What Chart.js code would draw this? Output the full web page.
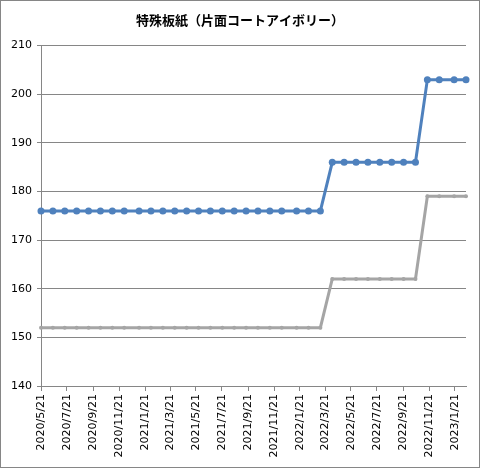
<!DOCTYPE html>
<html>
<head>
<meta charset="utf-8">
<script src="https://cdn.jsdelivr.net/npm/chart.js@4.4.0/dist/chart.umd.min.js"></script>
<style>
body { margin: 0; background: #fff; }
canvas { display: block; }
</style>
</head>
<body>
<canvas id="graph-canvas" width="480" height="468"></canvas>
<script>
const chartTitle = '特殊板紙（片面コートアイボリー）';

// price survey dates (every 4 weeks, sometimes 5)
const dates = [
    '2020/5/21','2020/6/18','2020/7/16','2020/8/13','2020/9/10','2020/10/8','2020/11/5','2020/12/3',
    '2021/1/7','2021/2/4','2021/3/4','2021/4/1','2021/4/29','2021/5/27','2021/6/24','2021/7/22',
    '2021/8/19','2021/9/16','2021/10/14','2021/11/11','2021/12/9','2022/1/13','2022/2/10','2022/3/10',
    '2022/4/7','2022/5/5','2022/6/2','2022/6/30','2022/7/28','2022/8/25','2022/9/22','2022/10/20',
    '2022/11/17','2022/12/15','2023/1/19','2023/2/16'
];
const blueValues = [
    176,176,176,176,176,176,176,176,
    176,176,176,176,176,176,176,176,
    176,176,176,176,176,176,176,176,
    186,186,186,186,186,186,186,186,
    203,203,203,203
];
const grayValues = [
    152,152,152,152,152,152,152,152,
    152,152,152,152,152,152,152,152,
    152,152,152,152,152,152,152,152,
    162,162,162,162,162,162,162,162,
    179,179,179,179
];
const xTickLabels = [
    '2020/5/21','2020/7/21','2020/9/21','2020/11/21','2021/1/21','2021/3/21','2021/5/21','2021/7/21',
    '2021/9/21','2021/11/21','2022/1/21','2022/3/21','2022/5/21','2022/7/21','2022/9/21','2022/11/21',
    '2023/1/21'
];
const yMin = 140, yMax = 210, yStep = 10;

function dayOf(s)
{
    const p = s.split('/').map(Number);
    return Date.UTC(p[0], p[1] - 1, p[2]) / 86400000;
}

const gridColor = '#868686';
const tickFont = { family: 'DejaVu Sans', size: 11 };

const frame = {
    id: 'frame',
    beforeDraw(chart)
    {
        const c = chart.ctx;
        c.save();
        c.fillStyle = '#fff';
        c.fillRect(0, 0, chart.width, chart.height);
        c.restore();
    },
    afterDraw(chart)
    {
        const c = chart.ctx;
        c.save();
        c.strokeStyle = gridColor;
        c.lineWidth = 1;
        c.strokeRect(0.5, 0.5, chart.width - 1, chart.height - 1);
        c.restore();
    }
};

const ctx = document.getElementById('graph-canvas');

var chart = new Chart(ctx,
    {
    type: 'line',
    data:
    {
        datasets:
        [{
            label: 'blue',
            data: dates.map((d, i) => ({ x: dayOf(d), y: blueValues[i] })),
            borderColor: '#4F81BD',
            backgroundColor: '#4F81BD',
            borderWidth: 3,
            pointRadius: 3.5,
            pointBorderWidth: 0,
            clip: false
        },
        {
            label: 'gray',
            data: dates.map((d, i) => ({ x: dayOf(d), y: grayValues[i] })),
            borderColor: '#A5A5A5',
            backgroundColor: '#A5A5A5',
            borderWidth: 3,
            pointRadius: 2,
            pointBorderWidth: 0,
            clip: false
        }]
    },
    options:
    {
        responsive: false,
        animation: false,
        layout: { padding: { left: 0, right: 0, top: 0, bottom: 10 } },
        plugins:
        {
            legend: { display: false },
            tooltip: { enabled: false },
            title:
            {
                display: true,
                text: chartTitle,
                color: '#000',
                font: { family: 'Noto Sans CJK JP', size: 13, weight: 'bold', lineHeight: 1.2 },
                padding: { top: 12, bottom: 18 }
            }
        },
        scales:
        {
            x:
            {
                type: 'linear',
                min: dayOf(dates[0]),
                max: dayOf(dates[dates.length - 1]),
                afterBuildTicks: axis => { axis.ticks = xTickLabels.map(s => ({ value: dayOf(s) })); },
                afterFit: axis => { axis.height = 72; },
                grid: { drawOnChartArea: false, color: gridColor, tickLength: 5 },
                border: { color: gridColor },
                ticks:
                {
                    autoSkip: false,
                    minRotation: 90,
                    maxRotation: 90,
                    padding: 3,
                    color: '#000',
                    font: tickFont,
                    callback: (v, i) => xTickLabels[i]
                }
            },
            y:
            {
                min: yMin,
                max: yMax,
                afterFit: axis => { axis.width = 41; },
                grid: { color: gridColor, tickLength: 4 },
                border: { color: gridColor },
                ticks:
                {
                    stepSize: yStep,
                    padding: 5,
                    color: '#000',
                    font: tickFont
                }
            },
            // empty right-hand spacer so the plot ends where the reference does
            spacer:
            {
                type: 'linear',
                position: 'right',
                min: yMin,
                max: yMax,
                afterFit: axis => { axis.width = 14; },
                grid: { display: false },
                border: { display: false },
                ticks: { display: false }
            }
        }
    },
    plugins: [frame]
});
</script>
</body>
</html>
